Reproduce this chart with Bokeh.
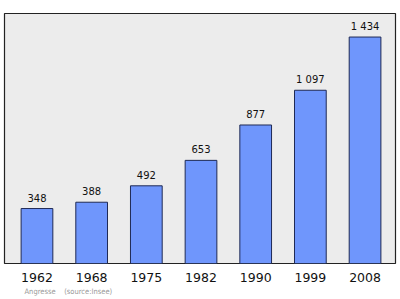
from bokeh.plotting import figure
from bokeh.models import Range1d, FixedTicker, Title
from bokeh.embed import file_html
from bokeh.resources import INLINE
from bokeh.core.properties import value

years = ["1962", "1968", "1975", "1982", "1990", "1999", "2008"]
population = [348, 388, 492, 653, 877, 1097, 1434]
value_labels = ["348", "388", "492", "653", "877", "1 097", "1 434"]
footnote = "Angresse\u00a0\u00a0\u00a0\u00a0(source:Insee)"

xs = list(range(len(years)))

p = figure(width=400, height=299, output_backend="svg", toolbar_location=None,
           x_range=Range1d(-0.594, 6.557), y_range=Range1d(0, 1583),
           min_border_left=4, min_border_right=5, min_border_top=13, min_border_bottom=36)
p.background_fill_color = "#ececec"
p.border_fill_color = "white"
p.outline_line_color = "#222222"
p.outline_line_width = 1.2
p.xgrid.visible = False
p.ygrid.visible = False
p.yaxis.visible = False

p.vbar(x=xs, top=population, width=0.58, bottom=0,
       fill_color="#6f96fc", line_color="#1f2a55", line_width=1)

p.text(x=xs, y=population, text=value_labels, text_align="center",
       text_baseline="alphabetic", y_offset=-11, text_font_size="10px",
       text_font=value("DejaVu Sans"), text_color="#111111")

ax = p.xaxis[0]
ax.ticker = FixedTicker(ticks=xs)
ax.major_label_overrides = {i: y for i, y in zip(xs, years)}
ax.axis_line_color = None
ax.major_tick_line_color = None
ax.minor_tick_line_color = None
ax.major_tick_out = 0
ax.major_tick_in = 0
ax.major_label_text_font = "DejaVu Sans"
ax.major_label_text_font_size = "12.5px"
ax.major_label_text_color = "#111111"
ax.major_label_standoff = 9

p.add_layout(Title(text=footnote, align="left", offset=20, standoff=0,
                   text_font="DejaVu Sans Condensed", text_font_size="7.5px",
                   text_font_style="normal", text_color="#999999"), "below")

open("out.html", "w").write(file_html(p, INLINE))
